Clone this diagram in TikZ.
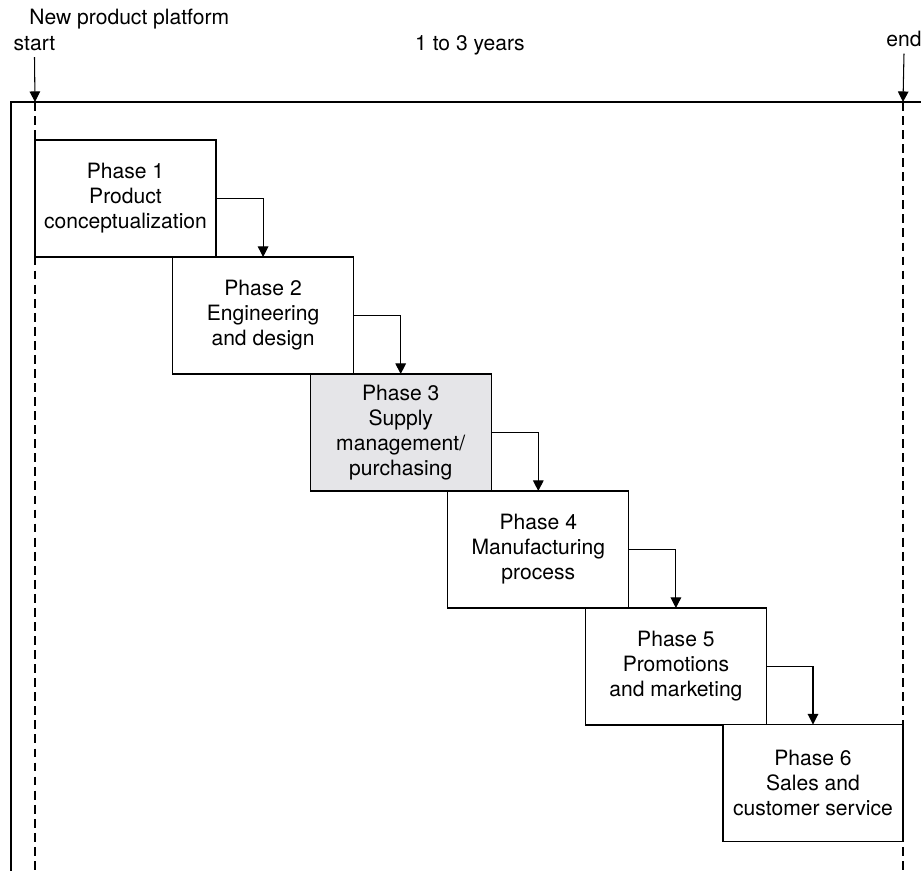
\documentclass[tikz,border=0pt]{standalone}
\usepackage{fontspec}
\setmainfont{TeX Gyre Heros}
\usepackage{tikz}
\usetikzlibrary{positioning, calc, arrows.meta}
\definecolor{phasegray}{rgb}{0.9, 0.9, 0.91}

\tikzset{
	phasebox/.style={draw, fill=white, line width=0.6pt, minimum width=3.62cm, minimum height=2.34cm, inner sep=0pt, outer sep=0pt, align=center},
	flow/.style={-{Triangle[length=6pt, width=6pt]}, line width=0.6pt},
	marker/.style={dash pattern=on 5pt off 3pt, line width=0.6pt}
}

\begin{document}
\begin{tikzpicture}[x=0.02cm, y=-0.02cm, every node/.style={font=\fontsize{12}{14.2}\selectfont}]
						\useasboundingbox (0,0) rectangle (921,871);
						
						\pgfmathsetmacro{\stepx}{137.6}
						\pgfmathsetmacro{\stepy}{117}
						
						% time labels
						\node[anchor=base west, inner sep=0pt] (platform) at (29,25) {New product platform};
						\node[anchor=base] (start) at (34.5,50.7) {start};
						\node[anchor=base] (span) at (470,50.7) {1 to 3 years};
						\node[anchor=base] (finish) at (904,47) {end};
						\coordinate (startpt) at (35,102);
						\coordinate (finishpt) at (903,102);
						
						% frame and markers
						\draw[line width=0.6pt] (11,871) -- (11,102) -- (921,102);
						\draw[marker] (startpt) -- (35,871);
						\draw[marker] (finishpt) -- (903,871);
						\draw[flow] (start.south) -- (startpt);
						\draw[flow] (finish.south) -- (finishpt);
						
						% phases
						\node[phasebox] (p1) at (125.5,198.5) {Phase 1\\Product\\conceptualization};
						\node[phasebox] (p2) at (125.5+\stepx,198.5+\stepy) {Phase 2\\Engineering\\and design};
						\node[phasebox, fill=phasegray] (p3) at (125.5+2*\stepx,198.5+2*\stepy) {Phase 3\\Supply\\management/\\purchasing};
						\node[phasebox] (p4) at (125.5+3*\stepx,198.5+3*\stepy) {Phase 4\\Manufacturing\\process};
						\node[phasebox] (p5) at (125.5+4*\stepx,198.5+4*\stepy) {Phase 5\\Promotions\\and marketing};
						\node[phasebox, minimum width=3.6cm] (p6) at (813,783) {Phase 6\\Sales and\\customer service};
						
						\draw[flow] (p1.east) -| (p2.north);
						\draw[flow] (p2.east) -| (p3.north);
						\draw[flow] (p3.east) -| (p4.north);
						\draw[flow] (p4.east) -| (p5.north);
						\draw[flow] (p5.east) -| (p6.north);
						\end{tikzpicture}
\end{document}
